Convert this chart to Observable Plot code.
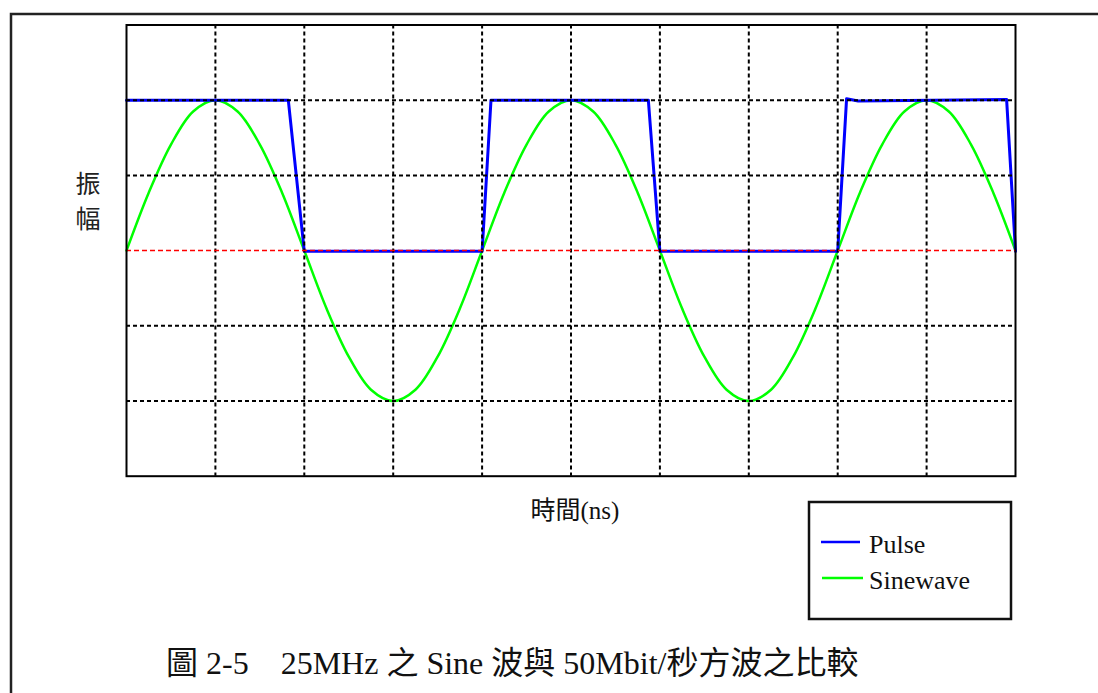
<!DOCTYPE html>
<html><head><meta charset="utf-8">
<script src="https://cdn.jsdelivr.net/npm/d3@7"></script>
<script src="https://cdn.jsdelivr.net/npm/@observablehq/plot@0.6"></script>
<style>html,body{margin:0;padding:0;background:#fff;overflow:hidden}
svg text.ser{font-family:"Liberation Serif","Times New Roman",Times,"DejaVu Serif","Noto Sans CJK TC",serif !important;}
</style>
</head><body><div id="chart"></div><script>
// Time axis in ns (10 ns per grid division), amplitude in grid units
const sineTime = [0,2.5,5,7.5,10,12.5,15,17.5,20,22.5,25,27.5,30,32.5,35,37.5,40,42.5,45,47.5,50,52.5,55,57.5,60,62.5,65,67.5,70,72.5,75,77.5,80,82.5,85,87.5,90,92.5,95,97.5,100];
const sineValues = [0,0.77,1.41,1.85,2,1.85,1.41,0.77,0,-0.77,-1.41,-1.85,-2,-1.85,-1.41,-0.77,0,0.77,1.41,1.85,2,1.85,1.41,0.77,0,-0.77,-1.41,-1.85,-2,-1.85,-1.41,-0.77,0,0.77,1.41,1.85,2,1.85,1.41,0.77,0];
const pulseTime = [0,18.2,20,40,41,58.7,60,80,81,82.3,99,100];
const pulseValues = [2,2,-0.01,-0.01,2,2,-0.01,-0.01,2.02,1.99,2.01,-0.01];
const gridX = [10,20,30,40,50,60,70,80,90];
const gridY = [-2,-1,1,2];
const zeroY = [0];
const seriesNames = ["Pulse","Sinewave"];
const seriesColors = ["#0000ff","#00ff00"];
const xLabel = "時間(ns)";
const yLabel = ["振","幅"];
const title = "圖 2-5\u300025MHz 之 Sine 波與 50Mbit/秒方波之比較";

const sineData = sineTime.map((t,i)=>({t, v: sineValues[i]}));
const pulseData = pulseTime.map((t,i)=>({t, v: pulseValues[i]}));

const svg = Plot.plot({
  width: 1098, height: 693,
  marginLeft: 126, marginRight: 83, marginTop: 24.5, marginBottom: 217.3,
  x: {domain: [0,100], axis: null},
  y: {domain: [-3,3], axis: null},
  style: {background: "white", overflow: "visible"},
  marks: [
    Plot.line(sineData, {x: "t", y: "v", stroke: seriesColors[1], strokeWidth: 2.5, curve: "catmull-rom"}),
    Plot.line(pulseData, {x: "t", y: "v", stroke: seriesColors[0], strokeWidth: 3}),
    Plot.ruleX(gridX, {stroke: "black", strokeWidth: 2, strokeDasharray: "4,3"}),
    Plot.ruleY(gridY, {stroke: "black", strokeWidth: 2, strokeDasharray: "4,3"}),
    Plot.ruleY(zeroY, {stroke: "#ff0000", strokeWidth: 1.5, strokeDasharray: "5,3"}),
    Plot.frame({stroke: "black", strokeWidth: 2})
  ]
});
document.getElementById("chart").appendChild(svg);

const s = d3.select(svg);
// outer page frame
s.append("path").attr("d","M1098,14H11V693").attr("fill","none").attr("stroke","#222").attr("stroke-width",2.5);
// y label (stacked)
yLabel.forEach((ch,i)=>{
  s.append("text").attr("class","ser").text(ch).attr("x",88).attr("y",184+i*35)
   .attr("text-anchor","middle").attr("dominant-baseline","central")
   .attr("font-size",25).attr("fill","#222");
});
// x label
s.append("text").attr("class","ser").text(xLabel).attr("x",575).attr("y",510)
 .attr("text-anchor","middle").attr("dominant-baseline","central")
 .attr("font-size",25).attr("fill","#111");
// legend
s.append("rect").attr("x",809).attr("y",502).attr("width",202).attr("height",117)
 .attr("fill","white").attr("stroke","#111").attr("stroke-width",2.5);
seriesNames.forEach((n,i)=>{
  const y = 542 + i*36;
  s.append("line").attr("x1",821+i).attr("x2",860+i*3).attr("y1",y).attr("y2",y)
   .attr("stroke",seriesColors[i]).attr("stroke-width",2.5);
  s.append("text").attr("class","ser").text(n).attr("x",869).attr("y",y+2)
   .attr("text-anchor","start").attr("dominant-baseline","central")
   .attr("font-size",26).attr("fill","#111");
});
// caption
s.append("text").attr("class","ser").text(title).attr("x",166).attr("y",663)
 .attr("text-anchor","start").attr("dominant-baseline","central")
 .attr("font-size",32).attr("fill","#111");
</script></body></html>
